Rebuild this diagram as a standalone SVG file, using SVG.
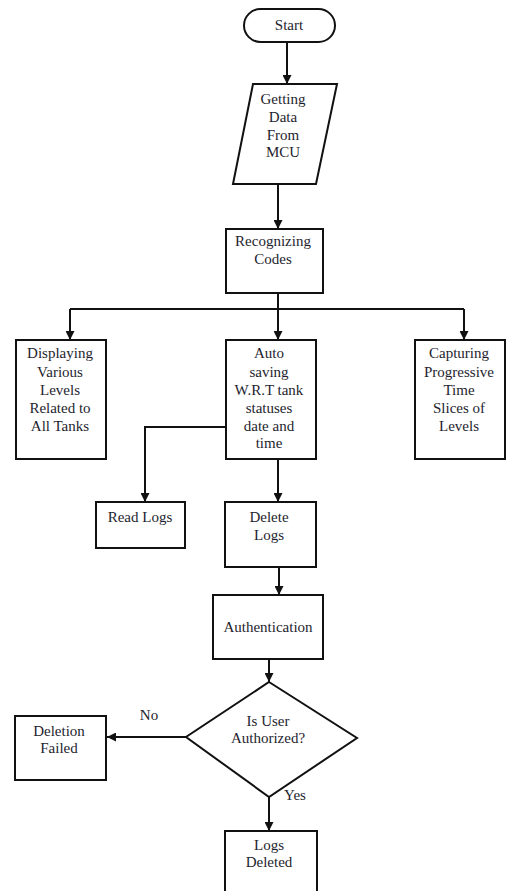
<svg xmlns="http://www.w3.org/2000/svg" width="507" height="891" viewBox="0 0 507 891">
<style>
.s{fill:#fff;stroke:#111;stroke-width:2}
.c{fill:none;stroke:#111;stroke-width:2}
text{font-family:"Liberation Serif","Times New Roman",serif;font-size:15px;fill:#1e1e2e;text-anchor:middle}
.l{text-anchor:start}
</style>
<defs>
<marker id="a" viewBox="0 0 10 10" refX="10" refY="5" markerWidth="9" markerHeight="9" markerUnits="userSpaceOnUse" orient="auto">
<path d="M0,0 L10,5 L0,10 z" fill="#111"/>
</marker>
</defs>
<rect width="507" height="891" fill="#fff"/>
<g id="connectors">
<path class="c" d="M287,42 V84" marker-end="url(#a)"/>
<path class="c" d="M278,184 V229" marker-end="url(#a)"/>
<path class="c" d="M278,293 V340" marker-end="url(#a)"/>
<path class="c" d="M70,309 H464"/>
<path class="c" d="M70,309 V340" marker-end="url(#a)"/>
<path class="c" d="M464,309 V340" marker-end="url(#a)"/>
<path class="c" d="M226,427 H145 V502" marker-end="url(#a)"/>
<path class="c" d="M278,459 V502" marker-end="url(#a)"/>
<path class="c" d="M279,567 V595" marker-end="url(#a)"/>
<path class="c" d="M269,659 V682" marker-end="url(#a)"/>
<path class="c" d="M186,737 H107" marker-end="url(#a)"/>
<path class="c" d="M269,797 V831" marker-end="url(#a)"/>
</g>
<g id="start">
<rect class="s" x="244" y="9" width="91" height="33" rx="16.5"/>
<text x="289" y="30">Start</text>
</g>
<g id="getting-data">
<polygon class="s" points="253,84 337,84 316,184 233,184"/>
<text x="283" y="104">Getting</text>
<text x="283" y="122">Data</text>
<text x="283" y="140">From</text>
<text x="283" y="157">MCU</text>
</g>
<g id="recognizing">
<rect class="s" x="226" y="229" width="97" height="64"/>
<text x="273" y="246">Recognizing</text>
<text x="273" y="264">Codes</text>
</g>
<g id="displaying">
<rect class="s" x="16" y="340" width="90" height="119"/>
<text x="60" y="358">Displaying</text>
<text x="60" y="377">Various</text>
<text x="60" y="395">Levels</text>
<text x="60" y="413">Related to</text>
<text x="60" y="431">All Tanks</text>
</g>
<g id="auto-saving">
<rect class="s" x="226" y="340" width="90" height="119"/>
<text x="269" y="358">Auto</text>
<text x="269" y="377">saving</text>
<text x="269" y="395">W.R.T tank</text>
<text x="269" y="413">statuses</text>
<text x="269" y="431">date and</text>
<text x="269" y="448">time</text>
</g>
<g id="capturing">
<rect class="s" x="415" y="340" width="90" height="119"/>
<text x="459" y="358">Capturing</text>
<text x="459" y="377">Progressive</text>
<text x="459" y="395">Time</text>
<text x="459" y="413">Slices of</text>
<text x="459" y="431">Levels</text>
</g>
<g id="read-logs">
<rect class="s" x="96" y="502" width="89" height="46"/>
<text x="140" y="522">Read Logs</text>
</g>
<g id="delete-logs">
<rect class="s" x="225" y="502" width="91" height="65"/>
<text x="269" y="522">Delete</text>
<text x="269" y="540">Logs</text>
</g>
<g id="authentication">
<rect class="s" x="213" y="595" width="110" height="64"/>
<text x="268" y="632">Authentication</text>
</g>
<g id="authorized">
<polygon class="s" points="269,682 357,738 269,797 186,737"/>
<text x="268" y="726">Is User</text>
<text x="268" y="743">Authorized?</text>
</g>
<g id="deletion-failed">
<rect class="s" x="15" y="716" width="91" height="64"/>
<text x="59" y="736">Deletion</text>
<text x="59" y="753">Failed</text>
</g>
<g id="logs-deleted">
<rect class="s" x="225" y="831" width="92" height="70"/>
<text x="269" y="850">Logs</text>
<text x="269" y="867">Deleted</text>
</g>
<g id="labels">
<text x="149" y="720">No</text>
<text x="295" y="800">Yes</text>
</g>
</svg>
